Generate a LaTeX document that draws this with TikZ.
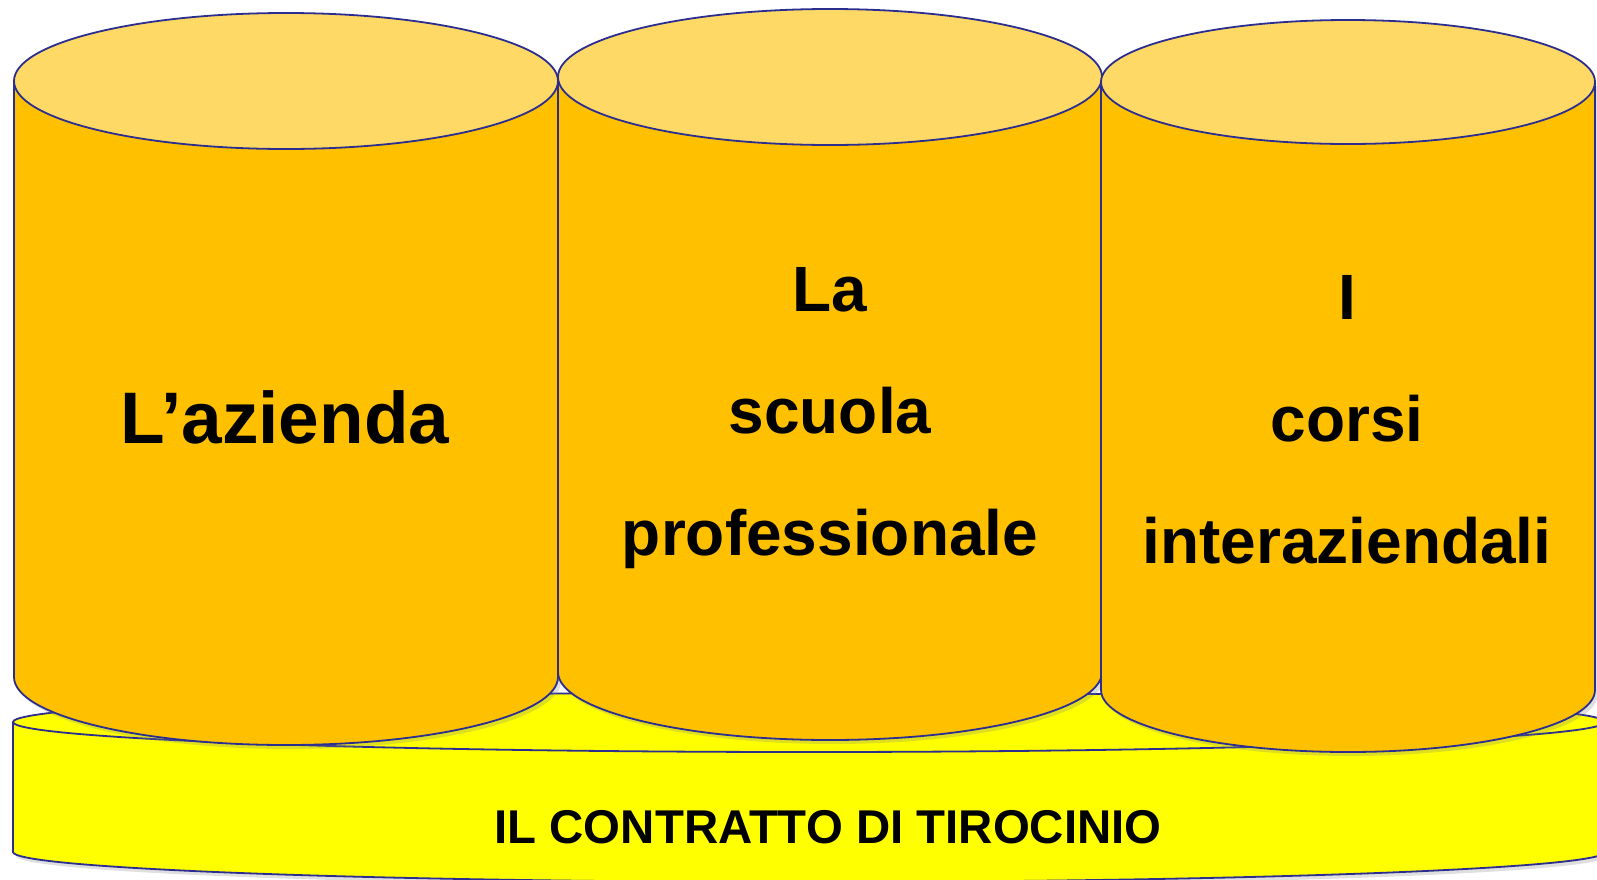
\documentclass[tikz,border=0pt]{standalone}
\usepackage{fontspec}
\setmainfont{Liberation Sans}
\usetikzlibrary{shadows}
\definecolor{drumside}{HTML}{FFC000}
\definecolor{drumtop}{HTML}{FED966}
\definecolor{baseyellow}{HTML}{FFFF00}
\definecolor{rimblue}{HTML}{2B2E8F}
% drum: centre x, top centre y, bottom centre y, x radius, y radius, fill
\newcommand{\drum}[6]{%
  \fill[#6, drop shadow={shadow xshift=1.5pt, shadow yshift=-2pt, opacity=.25}]
    (#1-#4,-#2) -- (#1-#4,-#3) arc[start angle=180, end angle=360, x radius=#4, y radius=#5]
    -- (#1+#4,-#2) -- cycle;
  \draw[rim] (#1-#4,-#2) -- (#1-#4,-#3) arc[start angle=180, end angle=360, x radius=#4, y radius=#5]
    -- (#1+#4,-#2);
}
\begin{document}
\begin{tikzpicture}[x=0.5pt, y=0.5pt,
    rim/.style={draw=rimblue, line width=0.9pt},
    bigtext/.style={font=\bfseries\fontsize{36.5}{40}\selectfont, anchor=base},
    stacktext/.style={font=\bfseries\fontsize{32}{61}\selectfont, align=center, anchor=base},
    basetext/.style={font=\bfseries\fontsize{23.7}{28}\selectfont, anchor=base}]
    \useasboundingbox (0,0) rectangle (1597,-879);
    \clip (0,0) rectangle (1597,-879);

    % the base disk
    \drum{809}{722}{852}{796}{30}{baseyellow}
    \filldraw[fill=baseyellow, rim] (809,-722) ellipse[x radius=796, y radius=30];

    % the three drums
    \drum{286}{81}{677}{272}{68}{drumside}
    \filldraw[fill=drumtop, rim] (286,-81) ellipse[x radius=272, y radius=68];
    \drum{830}{77}{672}{272}{68}{drumside}
    \filldraw[fill=drumtop, rim] (830,-77) ellipse[x radius=272, y radius=68];
    \drum{1348}{82}{690}{247}{62}{drumside}
    \filldraw[fill=drumtop, rim] (1348,-82) ellipse[x radius=247, y radius=62];

    % labels
    \node[bigtext] (azienda) at (285,-443) {L’azienda};
    \node[stacktext] (scuola) at (830,-555) {La\\scuola\\professionale};
    \node[stacktext] (corsi) at (1347,-563) {I\\corsi\\interaziendali};
    \node[basetext] (contratto) at (828,-843) {IL CONTRATTO DI TIROCINIO};
\end{tikzpicture}
\end{document}
